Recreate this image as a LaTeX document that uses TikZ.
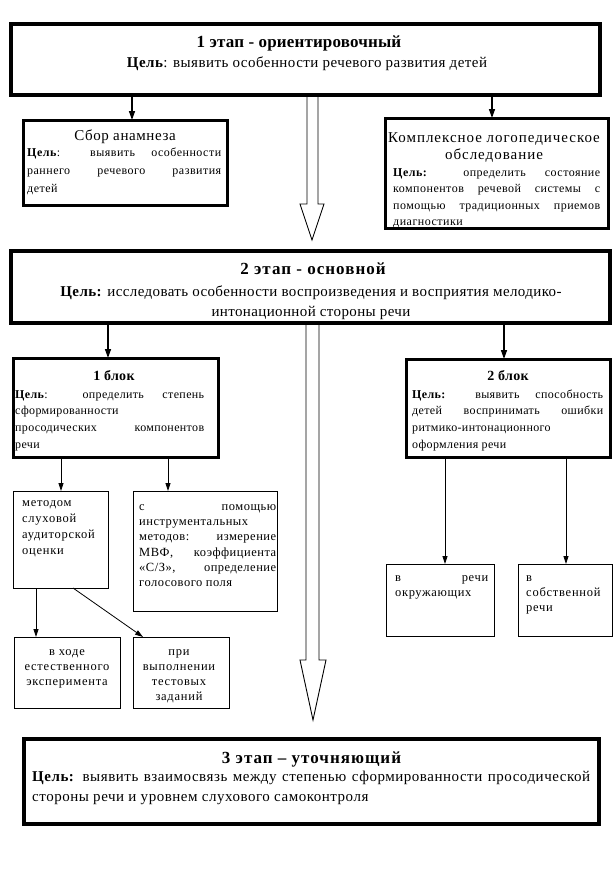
\documentclass[tikz,border=0pt]{standalone}
\usepackage{fontspec}
\setmainfont{Liberation Serif}
\usetikzlibrary{arrows.meta,calc}
\newcommand{\lsp}[1]{\addfontfeature{LetterSpace=#1}}
\begin{document}
\begin{tikzpicture}[x=1pt,y=-1pt,
  heavy/.style={draw, line width=3.8pt, inner sep=0pt, outer sep=0pt, anchor=north west},
  medium/.style={draw, line width=3pt, inner sep=0pt, outer sep=0pt, anchor=north west},
  thinbox/.style={draw, line width=0.9pt, inner sep=0pt, outer sep=0pt, anchor=north west},
  arr/.style={line width=1.4pt, -{Triangle[width=6pt,length=9pt]}},
  sarr/.style={line width=0.8pt, -{Triangle[width=5pt,length=8pt]}},
  hollow/.style={draw, line width=0.9pt, line join=miter},
  lbl/.style={inner sep=0pt, anchor=base},
  jpar/.style={inner sep=0pt, anchor=north west, align=justify, text width=#1},
  cpar/.style={inner sep=0pt, anchor=north, align=center},
  lpar/.style={inner sep=0pt, anchor=north west, align=left},
]
\useasboundingbox[fill=white] (0,0) rectangle (614,883);

% hollow arrows (drawn first, boxes on top)
\coordinate (hA1) at (307,95);  \coordinate (hA2) at (307,204);
\coordinate (hA3) at (300,204); \coordinate (hA4) at (312,240);
\coordinate (hA5) at (324,204); \coordinate (hA6) at (318,204);
\coordinate (hA7) at (318,95);
\draw[hollow] (hA1) -- (hA2) -- (hA3) -- (hA4) -- (hA5) -- (hA6) -- (hA7);
\coordinate (hB1) at (306,323);  \coordinate (hB2) at (306,660);
\coordinate (hB3) at (300,660);  \coordinate (hB4) at (313,720);
\coordinate (hB5) at (326,660);  \coordinate (hB6) at (319,660);
\coordinate (hB7) at (319,323);
\draw[hollow] (hB1) -- (hB2) -- (hB3) -- (hB4) -- (hB5) -- (hB6) -- (hB7);

% boxes
\node[heavy, minimum width=589pt, minimum height=71pt] (s1) at (11,24) {};
\node[medium, minimum width=204pt, minimum height=85pt] (b1) at (23,120) {};
\node[medium, minimum width=223pt, minimum height=110pt] (b2) at (385,118) {};
\node[heavy, minimum width=599pt, minimum height=72pt] (s2) at (11,251) {};
\node[medium, minimum width=205pt, minimum height=99pt] (k1) at (13,358) {};
\node[medium, minimum width=204pt, minimum height=98pt] (k2) at (406,359) {};
\node[thinbox, minimum width=95pt, minimum height=97pt] (m1) at (13,491) {};
\node[thinbox, minimum width=144pt, minimum height=120pt] (m2) at (133,491) {};
\node[thinbox, minimum width=108pt, minimum height=72pt] (r1) at (386,564) {};
\node[thinbox, minimum width=94pt, minimum height=72pt] (r2) at (518,564) {};
\node[thinbox, minimum width=106pt, minimum height=71pt] (e1) at (14,637) {};
\node[thinbox, minimum width=96pt, minimum height=71pt] (e2) at (133,637) {};
\node[heavy, minimum width=575pt, minimum height=85pt] (s3) at (24,739) {};

% connectors
\coordinate (x132) at (132,0); \coordinate (x492) at (492,0);
\coordinate (x108) at (108,0); \coordinate (x504) at (504,0);
\coordinate (x61) at (61,0);   \coordinate (x168) at (168,0);
\coordinate (x445) at (445,0); \coordinate (x566) at (566,0);
\coordinate (x36) at (36,0);
\coordinate (dA) at (73,588);  \coordinate (dB) at (143,637);
\draw[arr] (s1.south -| x132) -- (b1.north -| x132);
\draw[arr] (s1.south -| x492) -- (b2.north -| x492);
\draw[arr] (s2.south -| x108) -- (k1.north -| x108);
\draw[arr] (s2.south -| x504) -- (k2.north -| x504);
\draw[sarr] (k1.south -| x61) -- (m1.north -| x61);
\draw[sarr] (k1.south -| x168) -- (m2.north -| x168);
\draw[sarr] (k2.south -| x445) -- (r1.north -| x445);
\draw[sarr] (k2.south -| x566) -- (r2.north -| x566);
\draw[sarr] (m1.south -| x36) -- (e1.north -| x36);
\draw[sarr] (dA) -- (dB);

% stage 1
\node[lbl, font=\fontsize{17}{20}\selectfont\bfseries\lsp{1}] (t1) at (299,48) {1 этап - ориентировочный};
\node[lbl, font=\fontsize{15}{18}\selectfont\lsp{3}] (t1b) at (307,67) {\textbf{Цель}: выявить особенности речевого развития детей};

% Сбор анамнеза
\node[lbl, font=\fontsize{15}{18}\selectfont\lsp{4}] (tb1) at (125,140) {Сбор анамнеза};
\node[jpar=194pt, font=\fontsize{12}{18}\selectfont\lsp{4}] (pb1) at (27,143.4)
  {\strut\textbf{Цель}: выявить особенности\linebreak раннего речевого развития\linebreak детей};

% Комплексное
\node[lbl, font=\fontsize{15}{18}\selectfont\lsp{6.5}] (tb2a) at (494,142) {Комплексное логопедическое};
\node[lbl, font=\fontsize{15}{18}\selectfont\lsp{6.5}] (tb2b) at (494,159) {обследование};
\node[jpar=207pt, font=\fontsize{12}{16.5}\selectfont\lsp{4}] (pb2) at (393,164.5)
  {\strut\textbf{Цель:} определить состояние\linebreak компонентов речевой системы с\linebreak помощью традиционных приемов\linebreak диагностики};

% stage 2
\node[lbl, font=\fontsize{17}{20}\selectfont\bfseries\lsp{6}] (t2) at (313,274) {2 этап - основной};
\node[cpar, font=\fontsize{15}{20}\selectfont\lsp{2.5}] (t2b) at (311,282)
  {\strut\textbf{Цель:} исследовать особенности воспроизведения и восприятия мелодико-\\интонационной стороны речи};

% 1 блок
\node[lbl, font=\fontsize{14}{17}\selectfont\bfseries\lsp{2}] (tk1) at (114,380) {1 блок};
\node[jpar=189pt, font=\fontsize{12}{16.7}\selectfont\lsp{3}] (pk1) at (15,386.3)
  {\strut\textbf{Цель}: определить степень\linebreak сформированности\linebreak просодических компонентов\linebreak речи};

% 2 блок
\node[lbl, font=\fontsize{14}{17}\selectfont\bfseries\lsp{2}] (tk2) at (508,380) {2 блок};
\node[jpar=191pt, font=\fontsize{12}{16.7}\selectfont\lsp{3}] (pk2) at (412,386.3)
  {\strut\textbf{Цель:} выявить способность\linebreak детей воспринимать ошибки\linebreak ритмико-интонационного\linebreak оформления речи};

% small boxes
\node[lpar, font=\fontsize{12.5}{16}\selectfont\lsp{6}] (pm1) at (22,494.8)
  {\strut методом\\слуховой\\аудиторской\\оценки};
\node[jpar=137pt, font=\fontsize{12.5}{15.3}\selectfont\lsp{4}] (pm2) at (139,499.3)
  {\strut с помощью\linebreak инструментальных\linebreak методов: измерение\linebreak МВФ, коэффициента\linebreak «С/З», определение\linebreak голосового поля};
\node[jpar=93pt, font=\fontsize{12.5}{15}\selectfont\lsp{5}] (pr1) at (395,570.5)
  {\strut в речи\linebreak окружающих};
\node[lpar, font=\fontsize{12.5}{15}\selectfont\lsp{6}] (pr2) at (526,570.5)
  {\strut в\\собственной\\речи};
\node[cpar, font=\fontsize{12.5}{15}\selectfont\lsp{6}] (pe1) at (67,644.5)
  {\strut в ходе\\естественного\\эксперимента};
\node[cpar, font=\fontsize{12.5}{15}\selectfont\lsp{6}] (pe2) at (179,644.5)
  {\strut при\\выполнении\\тестовых\\заданий};

% stage 3
\node[lbl, font=\fontsize{17}{20}\selectfont\bfseries\lsp{6}] (t3) at (311.5,763) {3 этап – уточняющий};
\node[jpar=558pt, font=\fontsize{15}{20}\selectfont\lsp{3.5}] (t3b) at (32,767)
  {\strut\textbf{Цель:} выявить взаимосвязь между степенью сформированности просодической\linebreak стороны речи и уровнем слухового самоконтроля};
\end{tikzpicture}
\end{document}
